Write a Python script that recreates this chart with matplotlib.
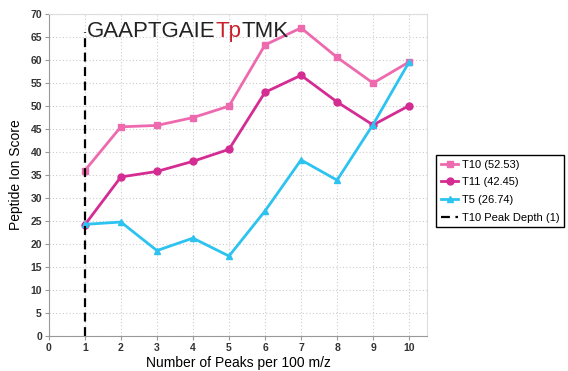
import matplotlib.pyplot as plt

plt.rcParams['font.family'] = ['Liberation Sans', 'DejaVu Sans']

peaks = [1, 2, 3, 4, 5, 6, 7, 8, 9, 10]
t10 = [36.0, 45.5, 45.8, 47.5, 50.0, 63.3, 67.0, 60.6, 55.0, 59.6]
t11 = [24.2, 34.6, 35.8, 38.0, 40.6, 53.0, 56.7, 50.9, 45.9, 50.1]
t5 = [24.3, 24.8, 18.6, 21.3, 17.4, 27.2, 38.3, 33.9, 46.0, 59.6]
labels = ['T10 (52.53)', 'T11 (42.45)', 'T5 (26.74)', 'T10 Peak Depth (1)']
peak_depth = 1

fig = plt.figure(figsize=(5.68, 3.71), dpi=100)
ax = fig.add_axes([0.086, 0.094, 0.666, 0.868])

ax.plot(peaks, t10, color='#EE6AAE', lw=2, marker='s', ms=5, label=labels[0])
ax.plot(peaks, t11, color='#D42C92', lw=2, marker='o', ms=5, label=labels[1])
ax.plot(peaks, t5, color='#2CC3F0', lw=2, marker='^', ms=5, label=labels[2])
ax.plot([peak_depth, peak_depth], [0, 66], color='black', lw=1.6, ls=(0, (4, 2.5)), label=labels[3])

ax.set_xlim(0, 10.5)
ax.set_ylim(0, 70)
ax.set_xticks(range(0, 11))
ax.set_yticks(range(0, 71, 5))
ax.tick_params(labelsize=7.5, length=3, color='#999999', pad=2)
for lab in ax.get_xticklabels() + ax.get_yticklabels():
    lab.set_fontweight('bold')
    lab.set_color('#333333')
ax.grid(True, ls=(0, (1, 2)), color='#cccccc', lw=0.8)
for side in ['left', 'bottom']:
    ax.spines[side].set_color('#999999')
for side in ['top', 'right']:
    ax.spines[side].set_color('#dddddd')

ax.set_xlabel('Number of Peaks per 100 m/z', fontsize=10, labelpad=2)
ax.set_ylabel('Peptide Ion Score', fontsize=10, labelpad=5)

# peptide sequence with the phosphosite in red
ypos = 66.3
fs = 16
t = ax.text(1.05, ypos, 'GAAPTGAIE', fontsize=fs, color='#222222', va='center')
fig.canvas.draw()
bb = t.get_window_extent()
x_next = ax.transData.inverted().transform((bb.x1, 0))[0]
t2 = ax.text(x_next, ypos, 'Tp', fontsize=fs, color='#C8202A', va='center')
fig.canvas.draw()
bb2 = t2.get_window_extent()
x_next2 = ax.transData.inverted().transform((bb2.x1, 0))[0]
ax.text(x_next2, ypos, 'TMK', fontsize=fs, color='#222222', va='center')

fig.legend(loc='upper left', bbox_to_anchor=(0.768, 0.582), fontsize=8, frameon=True,
           fancybox=False, edgecolor='black', handlelength=1.6, handletextpad=0.3,
           borderpad=0.4, labelspacing=0.7, framealpha=1, borderaxespad=0)

fig.savefig('out.png', dpi=100)
